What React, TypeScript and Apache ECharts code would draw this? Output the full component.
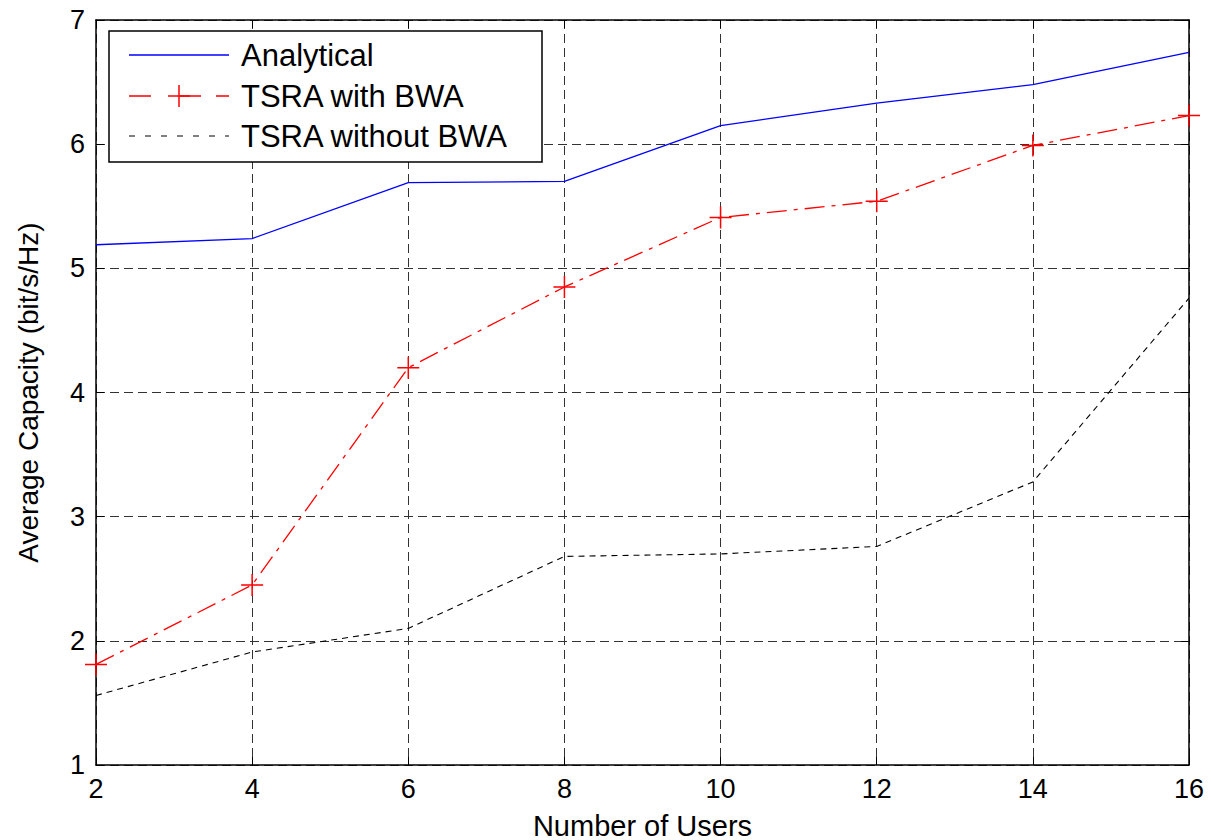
import React, { useEffect, useRef } from "react";
import * as echarts from "echarts";

const users = [2, 4, 6, 8, 10, 12, 14, 16];
const analytical = [5.19, 5.24, 5.69, 5.7, 6.15, 6.33, 6.48, 6.74];
const withBWA = [1.81, 2.45, 4.2, 4.85, 5.41, 5.54, 5.99, 6.23];
const withoutBWA = [1.56, 1.91, 2.1, 2.68, 2.7, 2.76, 3.28, 4.76];
const seriesNames = ["Analytical", "TSRA with BWA", "TSRA without BWA"];
const xTicks = [2, 4, 6, 8, 10, 12, 14, 16];
const yTicks = [1, 2, 3, 4, 5, 6, 7];

const FONT = "Liberation Sans, Arial, sans-serif";
const plus = "path://M10,0L10,20M0,10L20,10";

export default function App() {
  const ref = useRef<HTMLDivElement>(null);
  useEffect(() => {
    const chart = echarts.init(ref.current!, null, { renderer: "svg" });
    const pair = (ys: number[]) => users.map((u, i) => [u, ys[i]]);
    const gridLine = { show: true, lineStyle: { color: "#333", type: [9, 5], width: 1 } };
    const legendX = 129;
    const legendY = [55, 96, 136];
    chart.setOption({
      animation: false,
      backgroundColor: "#fff",
      grid: { left: 96, top: 20, width: 1093, height: 745, containLabel: false, outerBoundsMode: "none" },
      xAxis: [
        {
          type: "value",
          min: 2,
          max: 16,
          interval: 2,
          name: "Number of Users",
          nameLocation: "middle",
          nameGap: 46,
          nameTextStyle: { fontSize: 29, fontFamily: FONT, color: "#000" },
          axisLine: { show: true, onZero: false, lineStyle: { color: "#000", width: 1.5 } },
          axisTick: { show: true, inside: true, length: 8, lineStyle: { color: "#000" } },
          axisLabel: { fontSize: 27, fontFamily: FONT, color: "#000", margin: 10, formatter: (v: number) => (xTicks.includes(v) ? String(v) : "") },
          splitLine: gridLine,
        },
        {
          type: "value",
          position: "top",
          min: 2,
          max: 16,
          interval: 2,
          axisLine: { show: true, onZero: false, lineStyle: { color: "#000", width: 1.5 } },
          axisTick: { show: true, inside: true, length: 8, lineStyle: { color: "#000" } },
          axisLabel: { show: false },
          splitLine: { show: false },
        },
      ],
      yAxis: [
        {
          type: "value",
          min: 1,
          max: 7,
          interval: 1,
          name: "Average Capacity (bit/s/Hz)",
          nameLocation: "middle",
          nameGap: 54,
          nameTextStyle: { fontSize: 28, fontFamily: FONT, color: "#000" },
          axisLine: { show: true, onZero: false, lineStyle: { color: "#000", width: 1.5 } },
          axisTick: { show: true, inside: true, length: 8, lineStyle: { color: "#000" } },
          axisLabel: { fontSize: 27, fontFamily: FONT, color: "#000", margin: 11, formatter: (v: number) => (yTicks.includes(v) ? String(v) : "") },
          splitLine: gridLine,
        },
        {
          type: "value",
          position: "right",
          min: 1,
          max: 7,
          interval: 1,
          axisLine: { show: true, onZero: false, lineStyle: { color: "#000", width: 1.5 } },
          axisTick: { show: true, inside: true, length: 8, lineStyle: { color: "#000" } },
          axisLabel: { show: false },
          splitLine: { show: false },
        },
      ],
      series: [
        {
          name: seriesNames[0],
          type: "line",
          data: pair(analytical),
          symbol: "none",
          lineStyle: { color: "#0000ff", width: 1.3 },
          z: 5,
        },
        {
          name: seriesNames[1],
          type: "line",
          data: pair(withBWA),
          symbol: plus,
          symbolSize: 22,
          itemStyle: { color: "transparent", borderColor: "#ff0000", borderWidth: 1.5 },
          lineStyle: { color: "#ff0000", width: 1.3, type: [20, 7, 4, 7] },
          z: 5,
        },
        {
          name: seriesNames[2],
          type: "line",
          data: pair(withoutBWA),
          symbol: "none",
          lineStyle: { color: "#000", width: 1.1, type: [6, 5] },
          z: 5,
        },
      ],
      graphic: [
        {
          type: "rect",
          shape: { x: 109, y: 31, width: 433, height: 131 },
          style: { fill: "#fff", stroke: "#000", lineWidth: 1.5 },
          z: 100,
        },
        {
          type: "line",
          shape: { x1: legendX, y1: legendY[0], x2: legendX + 100, y2: legendY[0] },
          style: { stroke: "#0000ff", lineWidth: 1.3 },
          z: 101,
        },
        {
          type: "line",
          shape: { x1: legendX, y1: legendY[1], x2: legendX + 100, y2: legendY[1] },
          style: { stroke: "#ff0000", lineWidth: 1.3, lineDash: [22, 28, 22, 15] },
          z: 101,
        },
        {
          type: "line",
          shape: { x1: legendX + 50, y1: legendY[1] - 11, x2: legendX + 50, y2: legendY[1] + 11 },
          style: { stroke: "#ff0000", lineWidth: 1.5 },
          z: 101,
        },
        {
          type: "line",
          shape: { x1: legendX + 39, y1: legendY[1], x2: legendX + 61, y2: legendY[1] },
          style: { stroke: "#ff0000", lineWidth: 1.5 },
          z: 101,
        },
        {
          type: "line",
          shape: { x1: legendX, y1: legendY[2], x2: legendX + 100, y2: legendY[2] },
          style: { stroke: "#000", lineWidth: 1.1, lineDash: [6, 10] },
          z: 101,
        },
        ...seriesNames.map((n, i) => ({
          type: "text",
          x: 241,
          y: legendY[i],
          style: { text: n, fontSize: 31, fontFamily: FONT, fill: "#000", textVerticalAlign: "middle" },
          z: 101,
        })),
      ],
    });
    return () => chart.dispose();
  }, []);
  return <div ref={ref} style={{ position: "fixed", left: 0, top: 0, width: 1211, height: 840 }} />;
}
